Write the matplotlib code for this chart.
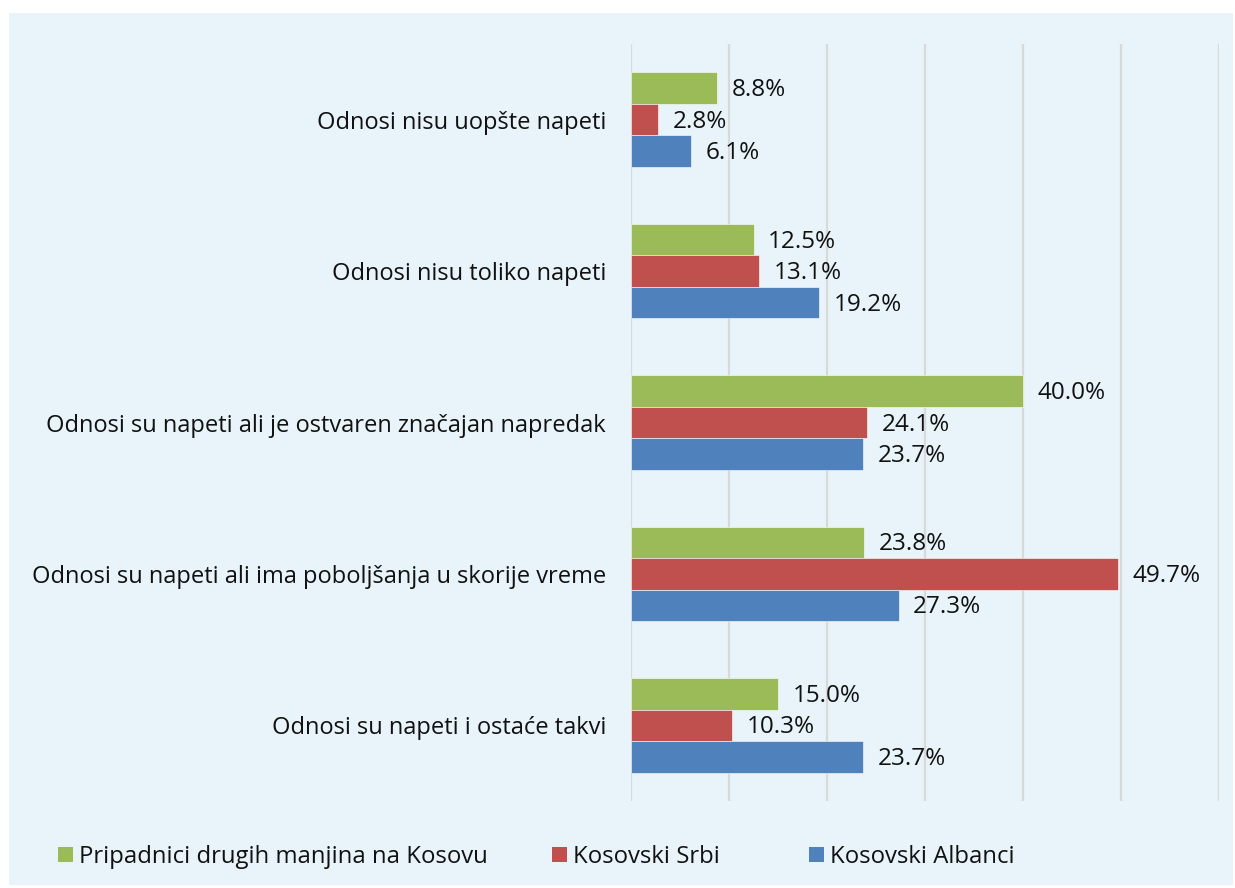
import matplotlib
matplotlib.use("Agg")
import matplotlib.pyplot as plt
from matplotlib.patches import Rectangle, Patch
import numpy as np

categories = [
    "Odnosi nisu uopšte napeti",
    "Odnosi nisu toliko napeti",
    "Odnosi su napeti ali je ostvaren značajan napredak",
    "Odnosi su napeti ali ima poboljšanja u skorije vreme",
    "Odnosi su napeti i ostaće takvi",
]
series_names = ["Pripadnici drugih manjina na Kosovu", "Kosovski Srbi", "Kosovski Albanci"]
other_minorities = [8.8, 12.5, 40.0, 23.8, 15.0]
kosovo_serbs = [2.8, 13.1, 24.1, 49.7, 10.3]
kosovo_albanians = [6.1, 19.2, 23.7, 27.3, 23.7]

colors = ["#9BBB59", "#C0504D", "#4F81BD"]
plt.rcParams['font.family'] = ['Open Sans', 'DejaVu Sans']

W, H = 1235, 888
fig = plt.figure(figsize=(W / 100, H / 100), dpi=100)
fig.patch.set_facecolor("white")
fig.patches.append(Rectangle((9 / W, (H - 885) / H), (1233 - 9) / W, (885 - 13) / H,
                             transform=fig.transFigure, facecolor="#E8F4FA",
                             edgecolor="none", zorder=-10))

ax = fig.add_axes([631 / W, (H - 801) / H, (1219 - 631) / W, (801 - 44) / H])
ax.set_facecolor("none")
ax.set_zorder(1)

n = len(categories)
y = np.arange(n)
bh = 0.208
data = [other_minorities, kosovo_serbs, kosovo_albanians]
offsets = [-bh, 0, bh]
for vals, off, c, name in zip(data, offsets, colors, series_names):
    bars = ax.barh(y + off, vals, height=bh, color=c, edgecolor="#FFFFFF",
                   linewidth=0.4, label=name, zorder=3)
    for b, v in zip(bars, vals):
        ax.annotate(f"{v:.1f}%", (b.get_width(), b.get_y() + b.get_height() / 2),
                    xytext=(10.5, -1.5), textcoords="offset points", va="center",
                    ha="left", fontsize=17.5, color="#111111", zorder=4)

ax.set_xlim(0, 60)
ax.set_ylim(n - 0.5, -0.5)
ax.set_xticks(np.arange(0, 61, 10))
ax.set_xticklabels([])
ax.set_yticks(y)
ax.set_yticklabels(categories, fontsize=17, color="#111111")
ax.tick_params(axis="both", length=0)
ax.tick_params(axis="y", pad=18)
ax.grid(axis="x", color="#D9D9D9", linewidth=1.6, zorder=1)
for s in ax.spines.values():
    s.set_visible(False)

legend_x = [58, 552, 809]
for c, name, lx in zip(colors, series_names, legend_x):
    leg = fig.legend([Patch(facecolor=c, edgecolor="none")], [name], loc="center left",
                     bbox_to_anchor=(lx / W, (H - 857) / H), frameon=False,
                     fontsize=17.2, handlelength=0.63, handleheight=0.63,
                     handletextpad=0.25, borderpad=0, borderaxespad=0,
                     labelcolor="#111111")

fig.savefig("out.png", dpi=100)
